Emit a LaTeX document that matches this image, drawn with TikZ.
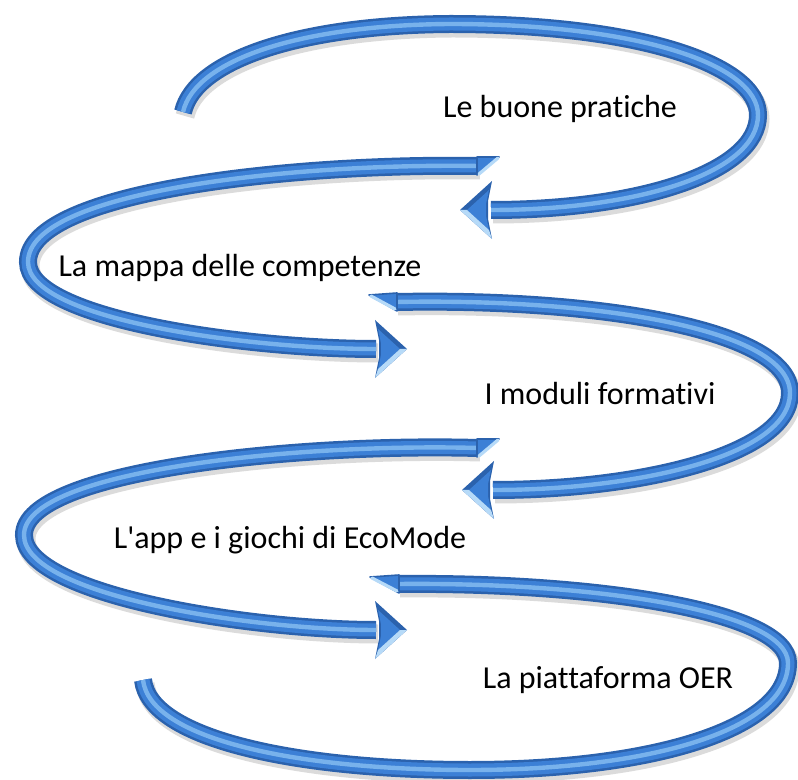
\documentclass[tikz,border=0pt]{standalone}
\usepackage{fontspec}
\newfontfamily\lblfont{Carlito}[Ligatures={NoCommon}]
\definecolor{tubedark}{HTML}{2B62AD}
\definecolor{tubemid}{HTML}{3C80D6}
\definecolor{tubehi}{HTML}{78B2EC}
\definecolor{tubelight}{HTML}{B6DAF8}
\begin{document}
\begin{tikzpicture}[x=0.5pt,y=-0.5pt,
  lbl/.style={font=\lblfont\fontsize{16}{19}\selectfont, inner sep=0pt, text=black, anchor=base},
  tube/.style={draw=tubedark, line width=9pt,
    preaction={draw=black, opacity=0.14, line width=9.5pt, transform canvas={shift={(1pt,-2pt)}}},
    postaction={draw=tubemid, line width=6.5pt},
    postaction={draw=tubehi, line width=2.2pt}},
  tailface/.style={fill=tubemid, draw=tubedark, line width=0.8pt, line join=round},
  tailedge/.style={draw=tubelight, line width=1.6pt, line cap=round},
  pics/headL/.style={code={
    \fill[tubedark] (-31,0) -- (1,-29) -- (-3,-9) -- (-3,9) -- (1,29) -- cycle;
    \fill[tubemid] (-24,0) -- (-2,-20) -- (-5,-6) -- (-5,6) -- (-2,20) -- cycle;
    \fill[tubelight] (-31,0) -- (1,29) -- (-2,20) -- (-24,0) -- cycle;
  }}
]
\useasboundingbox (0,0) rectangle (798,780);

% arrow 1
\coordinate (t1) at (183,112);
\coordinate (e1) at (491,210);
\draw[tube] (t1) .. controls (195,60) and (300,25) .. (450,24)
  .. controls (640,24) and (758,65) .. (758,115)
  .. controls (758,172) and (640,210) .. (e1);
\pic at (e1) {headL};

% arrow 2
\coordinate (t2) at (478,166);
\coordinate (e2) at (376,349);
\draw[tube] (t2) .. controls (300,163) and (28,190) .. (28,262)
  .. controls (28,320) and (250,349) .. (e2);
\pic[xscale=-1] at (e2) {headL};
\draw[tailface] (477,157) -- (499,157) -- (477,175) -- cycle;
\draw[tailedge] (498,158) -- (479,174);

% arrow 3
\coordinate (t3) at (396,302);
\coordinate (e3) at (493,490);
\draw[tube] (t3) .. controls (600,298) and (790,330) .. (790,393)
  .. controls (790,455) and (640,490) .. (e3);
\pic at (e3) {headL};
\draw[tailface] (397,293) -- (369,295) -- (397,311) -- cycle;
\draw[tailedge] (371,296) -- (395,309);

% arrow 4
\coordinate (t4) at (478,448);
\coordinate (e4) at (376,630);
\draw[tube] (t4) .. controls (300,443) and (24,470) .. (24,535)
  .. controls (24,595) and (250,630) .. (e4);
\pic[xscale=-1] at (e4) {headL};
\draw[tailface] (477,439) -- (499,439) -- (477,457) -- cycle;
\draw[tailedge] (498,440) -- (479,456);

% arrow 5
\coordinate (t5) at (398,584);
\coordinate (e5) at (143,680);
\draw[tube] (t5) .. controls (600,582) and (788,612) .. (788,663)
  .. controls (788,730) and (650,770) .. (470,770)
  .. controls (300,770) and (150,740) .. (e5);
\draw[tailface] (399,575) -- (370,577) -- (399,593) -- cycle;
\draw[tailedge] (372,578) -- (397,591);

\node[lbl] (l1) at (560,118) {Le buone pratiche};
\node[lbl] (l2) at (240,277) {La mappa delle competenze};
\node[lbl] (l3) at (600,405) {I moduli formativi};
\node[lbl] (l4) at (290,548) {L'app e i giochi di EcoMode};
\node[lbl] (l5) at (608,688) {La piattaforma OER};
\end{tikzpicture}
\end{document}
